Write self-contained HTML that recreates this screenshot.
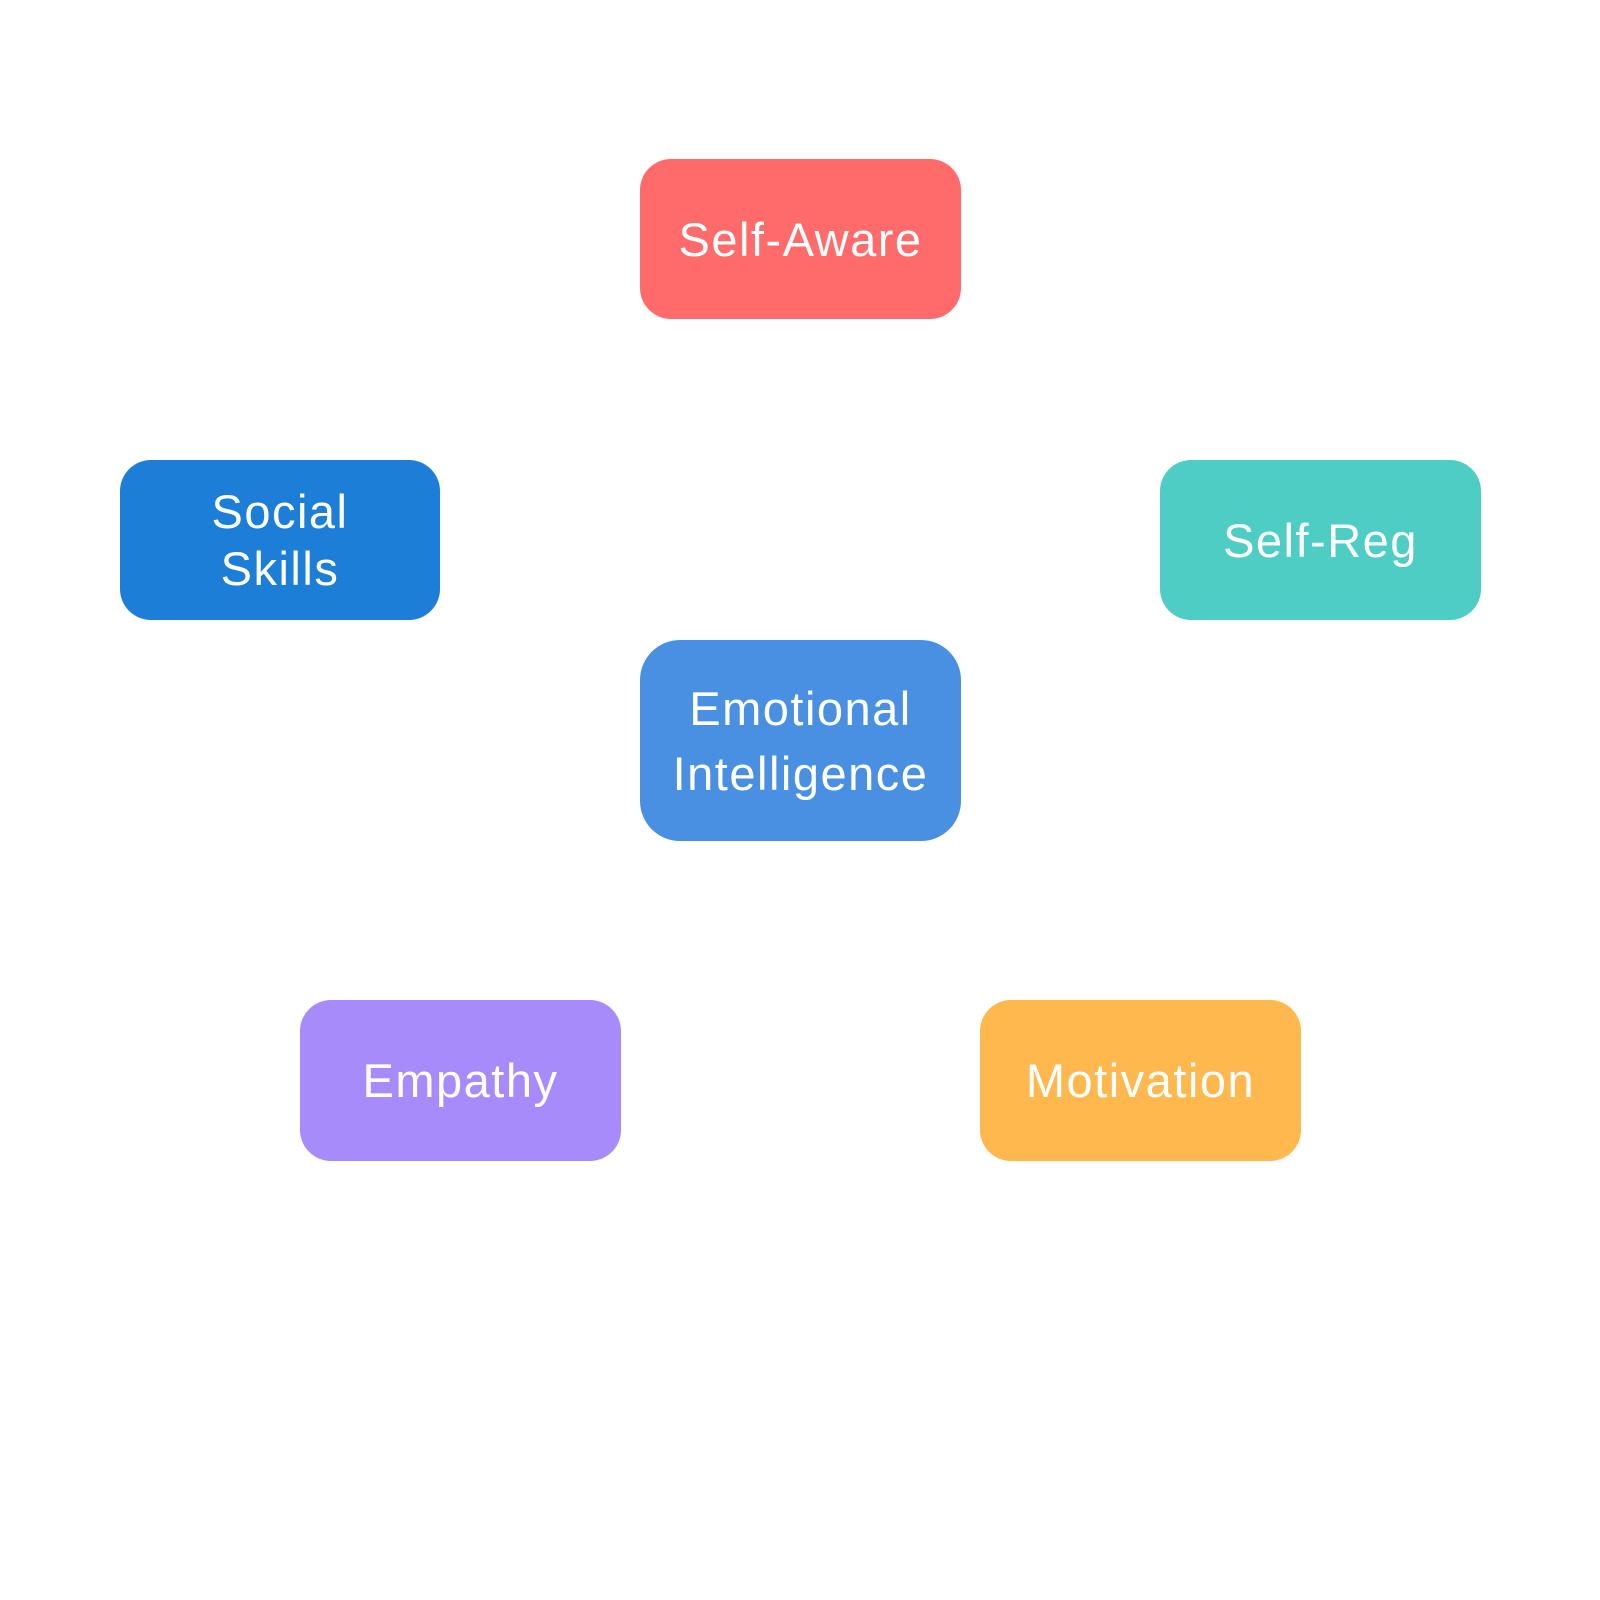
<!DOCTYPE html>
<html><head><meta charset="utf-8"><style>
html,body{margin:0;padding:0;background:#fff;}
body{width:1600px;height:1600px;position:relative;overflow:hidden;font-family:"Liberation Sans","DejaVu Sans",sans-serif;}
.n{position:absolute;display:flex;align-items:center;justify-content:center;text-align:center;color:#fff;font-size:47px;border-radius:31px;letter-spacing:1.5px;}
</style></head><body>
<div class="n" style="left:640px;top:159px;width:321px;height:160px;background:#FF6B6B;">Self-Aware</div>
<div class="n" style="left:120px;top:460px;width:320px;height:160px;background:#1C7ED6;line-height:57px;">Social<br>Skills</div>
<div class="n" style="left:1160px;top:460px;width:321px;height:160px;background:#4ECDC4;">Self-Reg</div>
<div class="n" style="left:640px;top:640px;width:321px;height:201px;background:#4A90E2;line-height:65px;border-radius:40px;">Emotional<br>Intelligence</div>
<div class="n" style="left:300px;top:1000px;width:321px;height:161px;background:#A78BFA;">Empathy</div>
<div class="n" style="left:980px;top:1000px;width:321px;height:161px;background:#FFB84D;">Motivation</div>
</body></html>
